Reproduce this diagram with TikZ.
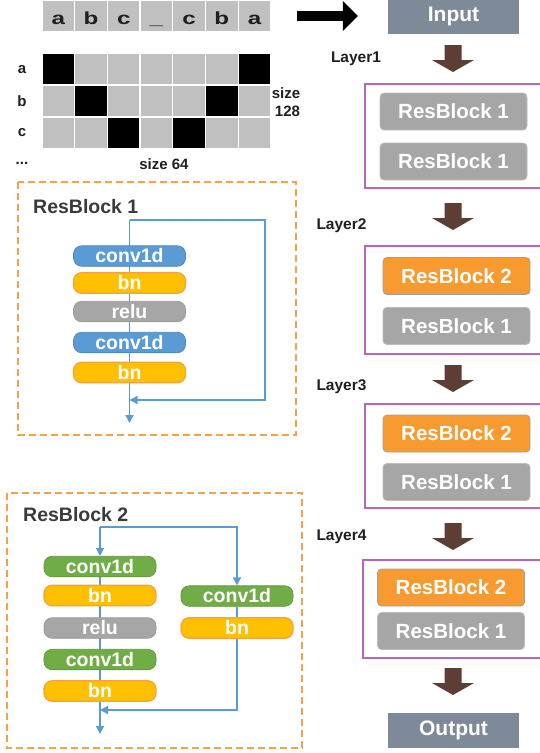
\documentclass[tikz,border=0pt]{standalone}
\usepackage{fontspec}
\setmainfont{Liberation Sans}
\usetikzlibrary{arrows.meta,backgrounds}

\definecolor{cellgray}{HTML}{C0C0C0}
\definecolor{txtdark}{HTML}{1F1F1F}
\definecolor{titlegray}{HTML}{3A3A3A}
\definecolor{convblue}{HTML}{5B9BD5}
\definecolor{convgreen}{HTML}{70AD47}
\definecolor{bnfill}{HTML}{FFC000}
\definecolor{bnedge}{HTML}{F4A142}
\definecolor{relugray}{HTML}{A6A6A6}
\definecolor{dashorange}{HTML}{F5A24C}
\definecolor{lineblue}{HTML}{5B9BD5}
\definecolor{slate}{HTML}{7F8A99}
\definecolor{arrowbrown}{HTML}{5C3E35}
\definecolor{framepurple}{HTML}{B866B8}
\definecolor{rbtwofill}{HTML}{F79B31}
\definecolor{rbgray}{HTML}{A6A6A6}

\tikzset{
  cell/.style={draw=white, line width=1.3pt, minimum width=32.7pt, minimum height=32pt,
    inner sep=0pt},
  seqletter/.style={anchor=base, inner sep=0pt, text=txtdark,
    font=\bfseries\fontsize{17.5}{17.5}\selectfont},
  gridlabel/.style={inner sep=0pt, text=txtdark, font=\bfseries\fontsize{15}{15}\selectfont},
  op/.style={rounded corners=8pt, minimum width=112pt, minimum height=20.5pt, inner sep=0pt,
    text=white, font=\bfseries\fontsize{19.5}{19.5}\selectfont},
  convb/.style={op, fill=convblue, draw=convblue!85!black, line width=0.6pt},
  convg/.style={op, fill=convgreen, draw=convgreen!85!black, line width=0.6pt},
  bnbox/.style={op, fill=bnfill, draw=bnedge, line width=1.2pt},
  relubox/.style={op, fill=relugray, draw=relugray!92!black, line width=0.6pt},
  flow/.style={draw=lineblue, line width=1.3pt},
  flowarrow/.style={flow, -{Triangle[length=8pt,width=8pt]}},
  dashframe/.style={draw=dashorange, line width=1.6pt, dash pattern=on 7pt off 4pt},
  blocktitle/.style={anchor=west, inner sep=0pt, text=titlegray,
    font=\bfseries\fontsize{19.5}{19.5}\selectfont},
  iobox/.style={fill=slate, minimum width=131pt, minimum height=34pt, inner sep=0pt,
    text=white, font=\bfseries\fontsize{21}{21}\selectfont},
  layerframe/.style={draw=framepurple, line width=1.3pt},
  rbone/.style={rounded corners=4pt, fill=rbgray, draw=rbgray!75!white, line width=0.8pt,
    minimum width=147pt, minimum height=37pt, inner sep=0pt, text=white,
    font=\bfseries\fontsize{20.5}{20.5}\selectfont},
  rbtwo/.style={rbone, fill=rbtwofill, draw=gray!75},
  layerlabel/.style={inner sep=0pt, text=txtdark, font=\bfseries\fontsize{15.5}{15.5}\selectfont},
  downarrow/.pic={\fill[arrowbrown] (-8.5,0) -- (8.5,0) -- (8.5,15) -- (21,15) -- (0,27)
    -- (-21,15) -- (-8.5,15) -- cycle;}
}

\begin{document}
\begin{tikzpicture}[x=1pt,y=-1pt]
\useasboundingbox (0,0) rectangle (540,753);

% ---------- input sequence (wide letters on a common baseline) ----------
\foreach \ch [count=\i] in {a,b,c,\_,c,b,a}{
  \node[cell, fill=cellgray] (t\i) at ({42+32.7*(\i-0.5)},16) {};
  \node[seqletter, yshift=-8pt] (tl\i) at (t\i.center) {\scalebox{1.38}[1]{\ch}};
}

% ---------- one-hot grid ----------
\foreach \r in {1,2,3}{
  \foreach \c in {1,...,7}{
    \pgfmathtruncatemacro\mirror{8-\r}
    \def\cf{cellgray}
    \ifnum\c=\r \def\cf{black}\fi
    \ifnum\c=\mirror \def\cf{black}\fi
    \node[cell, fill=\cf] (g\r\c) at ({42+32.7*(\c-0.5)},{53+32*(\r-0.5)}) {};
  }
}
\node[gridlabel] (la) at (22,70) {a};
\node[gridlabel] (lb) at (22,101) {b};
\node[gridlabel] (lc) at (22,133) {c};
\node[gridlabel] (ldots) at (22,163) {...};
\node[gridlabel] (s128a) at (286,93) {size};
\node[gridlabel] (s128b) at (287.5,111) {128};
\node[gridlabel] (s64) at (164,164) {size 64};

% ---------- arrow into the network ----------
\node[iobox] (input) at (453.5,16.5) {Input};
\draw[line width=10pt, -{Triangle[length=15pt,width=29pt]}, shorten <=25pt, shorten >=30pt]
  (t7.east) -- (t7.east -| input.west);

% ---------- ResBlock 1 detail ----------
\draw[dashframe] (18,182) rectangle (296,435);
\node[blocktitle] (rb1title) at (33,207) {ResBlock 1};
\node[convb]   (a1) at (129.5,256)   {conv1d};
\node[bnbox]   (a2) at (129.5,283)   {bn};
\node[relubox] (a3) at (129.5,311.5) {relu};
\node[convb]   (a4) at (129.5,342.5) {conv1d};
\node[bnbox]   (a5) at (129.5,372.5) {bn};
\coordinate (a-top)  at (129.5,220);
\coordinate (a-turn) at (265,220);
\coordinate (a-join) at (129.5,400);
\coordinate (a-out)  at (129.5,423);
\begin{scope}[on background layer]
  \draw[flowarrow] (a-top) -- (a-out);
\end{scope}
\draw[flowarrow] (a-top) -- (a-turn) |- (a-join);

% ---------- ResBlock 2 detail ----------
\draw[dashframe] (7,493) rectangle (302,748);
\node[blocktitle] (rb2title) at (23,515) {ResBlock 2};
\node[convg]   (b1) at (100,566.5) {conv1d};
\node[bnbox]   (b2) at (100,595.5) {bn};
\node[relubox] (b3) at (100,628)   {relu};
\node[convg]   (b4) at (100,659.5) {conv1d};
\node[bnbox]   (b5) at (100,691)   {bn};
\node[convg]   (s1) at (237,596)   {conv1d};
\node[bnbox]   (s2) at (237,628)   {bn};
\coordinate (b-top)  at (100,527);
\coordinate (b-turn) at (237,527);
\coordinate (b-join) at (100,710);
\coordinate (b-out)  at (100,734);
\begin{scope}[on background layer]
  \draw[flowarrow] (b1.south) -- (b-out);
  \draw[flow] (s1.south) -- (s2.north);
\end{scope}
\draw[flowarrow] (b-top) -- (b1.north);
\draw[flowarrow] (b-top) -- (b-turn) -- (s1.north);
\draw[flowarrow] (s2.south) |- (b-join);

% ---------- network stack ----------
\pic at (453,45) {downarrow};
\node[layerlabel] (l1) at (356,59) {Layer1};
\draw[layerframe] (365,84) rectangle (541,188);
\node[rbone] (r11) at (453.5,111.5) {ResBlock 1};
\node[rbone] (r12) at (453.5,161.5) {ResBlock 1};

\pic at (453,203) {downarrow};
\node[layerlabel] (l2) at (341.5,226) {Layer2};
\draw[layerframe] (365,246) rectangle (541,354);
\node[rbtwo] (r21) at (456.5,276) {ResBlock 2};
\node[rbone] (r22) at (456.5,326) {ResBlock 1};

\pic at (453,365) {downarrow};
\node[layerlabel] (l3) at (341.5,387) {Layer3};
\draw[layerframe] (365,404) rectangle (541,508);
\node[rbtwo] (r31) at (456.5,433.5) {ResBlock 2};
\node[rbone] (r32) at (456.5,482)   {ResBlock 1};

\pic at (453,523) {downarrow};
\node[layerlabel] (l4) at (341.5,537) {Layer4};
\draw[layerframe] (363,560) rectangle (541,658);
\node[rbtwo] (r41) at (451,587.5) {ResBlock 2};
\node[rbone] (r42) at (451,631)   {ResBlock 1};

\pic at (453,668) {downarrow};
\node[iobox, minimum height=35pt] (output) at (453.5,730.5) {Output};
\end{tikzpicture}
\end{document}
